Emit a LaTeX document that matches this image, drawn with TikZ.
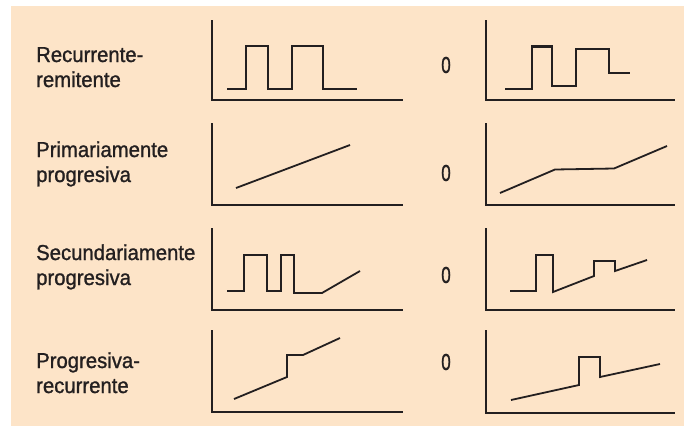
\documentclass[tikz,border=0pt]{standalone}
\usepackage{fontspec}
\setmainfont{Liberation Sans}
\newfontfamily\labelfont[FakeStretch=0.94,FakeBold=1.1]{Liberation Sans}
\newfontfamily\digitfont[FakeStretch=0.74,FakeBold=1.1]{Liberation Sans}
\definecolor{panelbg}{HTML}{FDE4C8}
\definecolor{ink}{HTML}{231F20}
\begin{document}
\begin{tikzpicture}[x=1pt,y=-1pt,
  axis/.style={line width=2.8pt, draw=ink, line join=miter},
  trace/.style={line width=2.6pt, draw=ink, line join=miter},
  thintrace/.style={line width=1.8pt, draw=ink, line join=miter},
  course/.style={font=\labelfont\fontsize{21.6}{25}\selectfont, text=ink, align=left,
                 anchor=base west, inner sep=0pt},
  orsign/.style={font=\digitfont\fontsize{23}{24}\selectfont, text=ink, inner sep=0pt}]
\useasboundingbox (0,0) rectangle (684,426);
\fill[panelbg] (11,6) rectangle (684,426);

% course names (anchored at the baseline of the second line)
\node[course] (lrr) at (36,87)  {Recurrente-\\remitente};
\node[course] (lpp) at (36,182) {Primariamente\\progresiva};
\node[course] (lsp) at (36,285) {Secundariamente\\progresiva};
\node[course] (lpr) at (36,393) {Progresiva-\\recurrente};

% "or" markers between the two variants
\node[orsign] (o1) at (446,65)  {0};
\node[orsign] (o2) at (446,173) {0};
\node[orsign] (o3) at (446,275) {0};
\node[orsign] (o4) at (446,362) {0};

% relapsing-remitting
\draw[axis] (212,20) -- (212,100) -- (403,100);
\draw[trace] (227,89) -- (246,89) -- (246,46) -- (268,46) -- (268,89) -- (292,89)
  -- (292,46) -- (323,46) -- (323,89) -- (357,89);
\draw[axis] (486,20) -- (486,100) -- (675,100);
\draw[trace] (505,89) -- (532,89) -- (532,46.5) -- (552,46.5) -- (552,86) -- (576,86)
  -- (576,49) -- (609,49) -- (609,73) -- (630,73);

% primary progressive
\draw[axis] (212,123) -- (212,205) -- (403,205);
\draw[thintrace] (236,188) -- (350,145);
\draw[axis] (486,123) -- (486,205) -- (675,205);
\draw[thintrace] (500,193) -- (555,169.5) -- (614,168.5) -- (667,146);

% secondary progressive
\draw[axis] (212,228) -- (212,310) -- (403,310);
\draw[thintrace] (227,291) -- (244,291) -- (244,255) -- (267,255) -- (267,291) -- (281,291)
  -- (281,255) -- (294,255) -- (294,293) -- (322,293) -- (360,271);
\draw[axis] (486,228) -- (486,310) -- (675,310);
\draw[thintrace] (510,291) -- (536,291) -- (536,255) -- (553,255) -- (553,292) -- (594,276)
  -- (594,261) -- (615,261) -- (615,271) -- (647,260);

% progressive-relapsing
\draw[axis] (212,330) -- (212,412) -- (403,412);
\draw[thintrace] (234,399) -- (287,377) -- (287,355) -- (303,355) -- (340,338);
\draw[axis] (486,330) -- (486,413) -- (675,413);
\draw[thintrace] (511,400) -- (579,385) -- (579,357) -- (600,357) -- (600,377) -- (660,364);
\end{tikzpicture}
\end{document}
